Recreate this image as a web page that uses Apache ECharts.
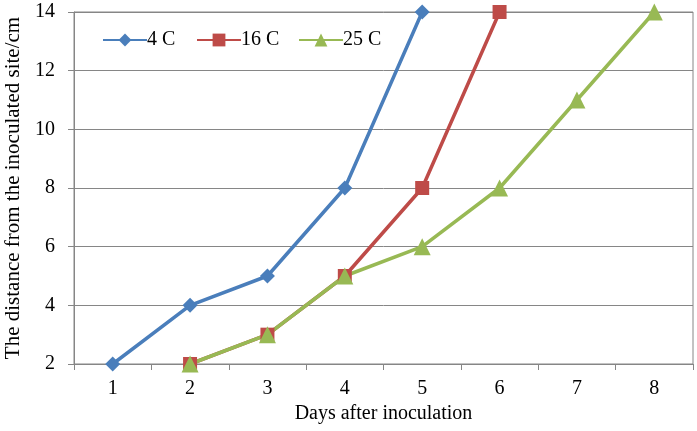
<!DOCTYPE html>
<html>
<head>
<meta charset="utf-8">
<script src="https://cdn.jsdelivr.net/npm/echarts@6/dist/echarts.min.js"></script>
<style>
  html, body { margin: 0; padding: 0; background: #fff; }
  #chart { width: 697px; height: 431px; }
</style>
</head>
<body>
<div id="chart"></div>
<script>
const days = ['1', '2', '3', '4', '5', '6', '7', '8']
// '-' = no measurement that day
const temp4 = [2, 4, 5, 8, 14, '-', '-', '-']
const temp16 = ['-', 2, 3, 5, 8, 14, '-', '-']
const temp25 = ['-', 2, 3, 5, 6, 8, 11, 14]

const FONT = '"Liberation Serif", "Times New Roman", serif'
const GRID_GRAY = '#868686'
const SIZES = { diamond: 15, rect: 14, triangle: 17 }

const makeSeries = (name, data, color, symbol) => ({
  name,
  type: 'line',
  data,
  symbol,
  symbolSize: SIZES[symbol],
  lineStyle: { color, width: 3.5 },
  itemStyle: { color },
})

const legendAt = (name, left) => ({
  data: [name],
  left,
  top: 30,
  itemWidth: 44,
  itemHeight: 16,
  itemGap: 0,
  padding: 0,
  textStyle: { fontFamily: FONT, fontSize: 20, color: '#000', padding: [0, 0, 0, -5] },
})

const chart = echarts.init(document.getElementById('chart'))
chart.setOption({
  animation: false,
  backgroundColor: '#fff',
  grid: {
    left: 74, right: 4, top: 12, bottom: 67,
    outerBoundsMode: 'none',
    containLabel: false,
    show: true, borderColor: GRID_GRAY, borderWidth: 1,
  },
  legend: [
    legendAt('4 C', 102),
    legendAt('16 C', 196),
    legendAt('25 C', 298),
  ],
  xAxis: {
    type: 'category',
    data: days,
    boundaryGap: true,
    name: 'Days after inoculation',
    nameLocation: 'middle',
    nameGap: 35,
    nameTextStyle: { fontFamily: FONT, fontSize: 20, color: '#000' },
    axisLine: { lineStyle: { color: GRID_GRAY, width: 1 } },
    axisTick: { show: true, length: 6, lineStyle: { color: GRID_GRAY } },
    axisLabel: { fontFamily: FONT, fontSize: 20, color: '#000', margin: 15 },
    splitLine: { show: false },
  },
  yAxis: {
    type: 'value',
    min: 2,
    max: 14,
    interval: 2,
    name: 'The distance from the inoculated site/cm',
    nameLocation: 'middle',
    nameGap: 46,
    nameTextStyle: { fontFamily: FONT, fontSize: 21, color: '#000' },
    axisLine: { show: true, lineStyle: { color: GRID_GRAY, width: 1 } },
    axisTick: { show: true, length: 6, lineStyle: { color: GRID_GRAY } },
    axisLabel: { fontFamily: FONT, fontSize: 20, color: '#000', margin: 19 },
    splitLine: { show: true, lineStyle: { color: GRID_GRAY, width: 1 } },
  },
  series: [
    makeSeries('4 C', temp4, '#4A7EBB', 'diamond'),
    makeSeries('16 C', temp16, '#BE4B48', 'rect'),
    makeSeries('25 C', temp25, '#98B954', 'triangle'),
  ],
})
</script>
</body>
</html>
